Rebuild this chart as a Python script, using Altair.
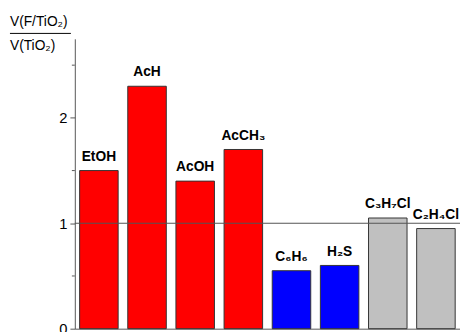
import altair as alt
import pandas as pd

categories = ["EtOH", "AcH", "AcOH", "AcCH3", "C6H6", "H2S", "C3H7Cl", "C2H4Cl"]
labels = ["EtOH", "AcH", "AcOH", "AcCH₃", "C₆H₆", "H₂S", "C₃H₇Cl", "C₂H₄Cl"]
values = [1.50, 2.30, 1.40, 1.70, 0.55, 0.60, 1.05, 0.95]
groups = ["oxygenate", "oxygenate", "oxygenate", "oxygenate",
          "other", "other", "chlorinated", "chlorinated"]
group_names = ["oxygenate", "other", "chlorinated"]
group_colors = ["#ff0000", "#0000ff", "#c0c0c0"]
ref_value = 1.0
major_ticks = [0, 1, 2]
minor_ticks = [0.5, 1.5, 2.5]

df = pd.DataFrame({"cat": categories, "label": labels, "value": values, "group": groups})

FONT = "Liberation Sans"

x = alt.X("cat:N", sort=categories,
          scale=alt.Scale(paddingInner=0.2, paddingOuter=0.1),
          axis=alt.Axis(labels=False, ticks=False, title=None, domainColor="#555"))
y = alt.Y("value:Q",
          scale=alt.Scale(domain=[0, 2.75], nice=False),
          axis=alt.Axis(values=major_ticks, grid=False, title=None, format="d",
                        labelFont=FONT, labelFontSize=15, labelColor="#000",
                        labelPadding=3, tickSize=5, tickColor="#555",
                        domainColor="#555"))

bars = alt.Chart(df).mark_bar(stroke="#333", strokeWidth=1).encode(
    x=x, y=y,
    color=alt.Color("group:N", scale=alt.Scale(domain=group_names, range=group_colors), legend=None),
)

text = alt.Chart(df).mark_text(font=FONT, fontSize=14, fontWeight="bold",
                               baseline="alphabetic", dy=-10, color="#000").encode(
    x=alt.X("cat:N", sort=categories), y="value:Q", text="label:N")

ref = alt.Chart(pd.DataFrame({"r": [ref_value]})).mark_rule(color="#555", strokeWidth=1.2).encode(
    y="r:Q")

minor = alt.Chart(pd.DataFrame({"m": minor_ticks})).mark_rule(color="#555", strokeWidth=1).encode(
    y="m:Q", x=alt.value(-3), x2=alt.value(0))

title1 = alt.Chart(pd.DataFrame({"t": ["V(F/TiO₂)"]})).mark_text(
    font=FONT, fontSize=14, align="left", baseline="alphabetic", color="#000").encode(
    x=alt.value(-66), y=alt.value(-13.5), text="t:N")
title2 = alt.Chart(pd.DataFrame({"t": ["V(TiO₂)"]})).mark_text(
    font=FONT, fontSize=14, align="left", baseline="alphabetic", color="#000").encode(
    x=alt.value(-66), y=alt.value(11.5), text="t:N")
frac = alt.Chart(pd.DataFrame({"a": [0]})).mark_rule(color="#000", strokeWidth=1).encode(
    x=alt.value(-66), x2=alt.value(-4), y=alt.value(-5.5))

chart = alt.layer(bars, ref, minor, text, title1, title2, frac).properties(
    width=392, height=295,
    autosize=alt.AutoSizeParams(type="none"),
    padding={"left": 68, "top": 28.5, "right": 0, "bottom": 0},
).configure_view(stroke=None)

chart.save("out.html", embed_options={"renderer": "svg", "actions": False})
